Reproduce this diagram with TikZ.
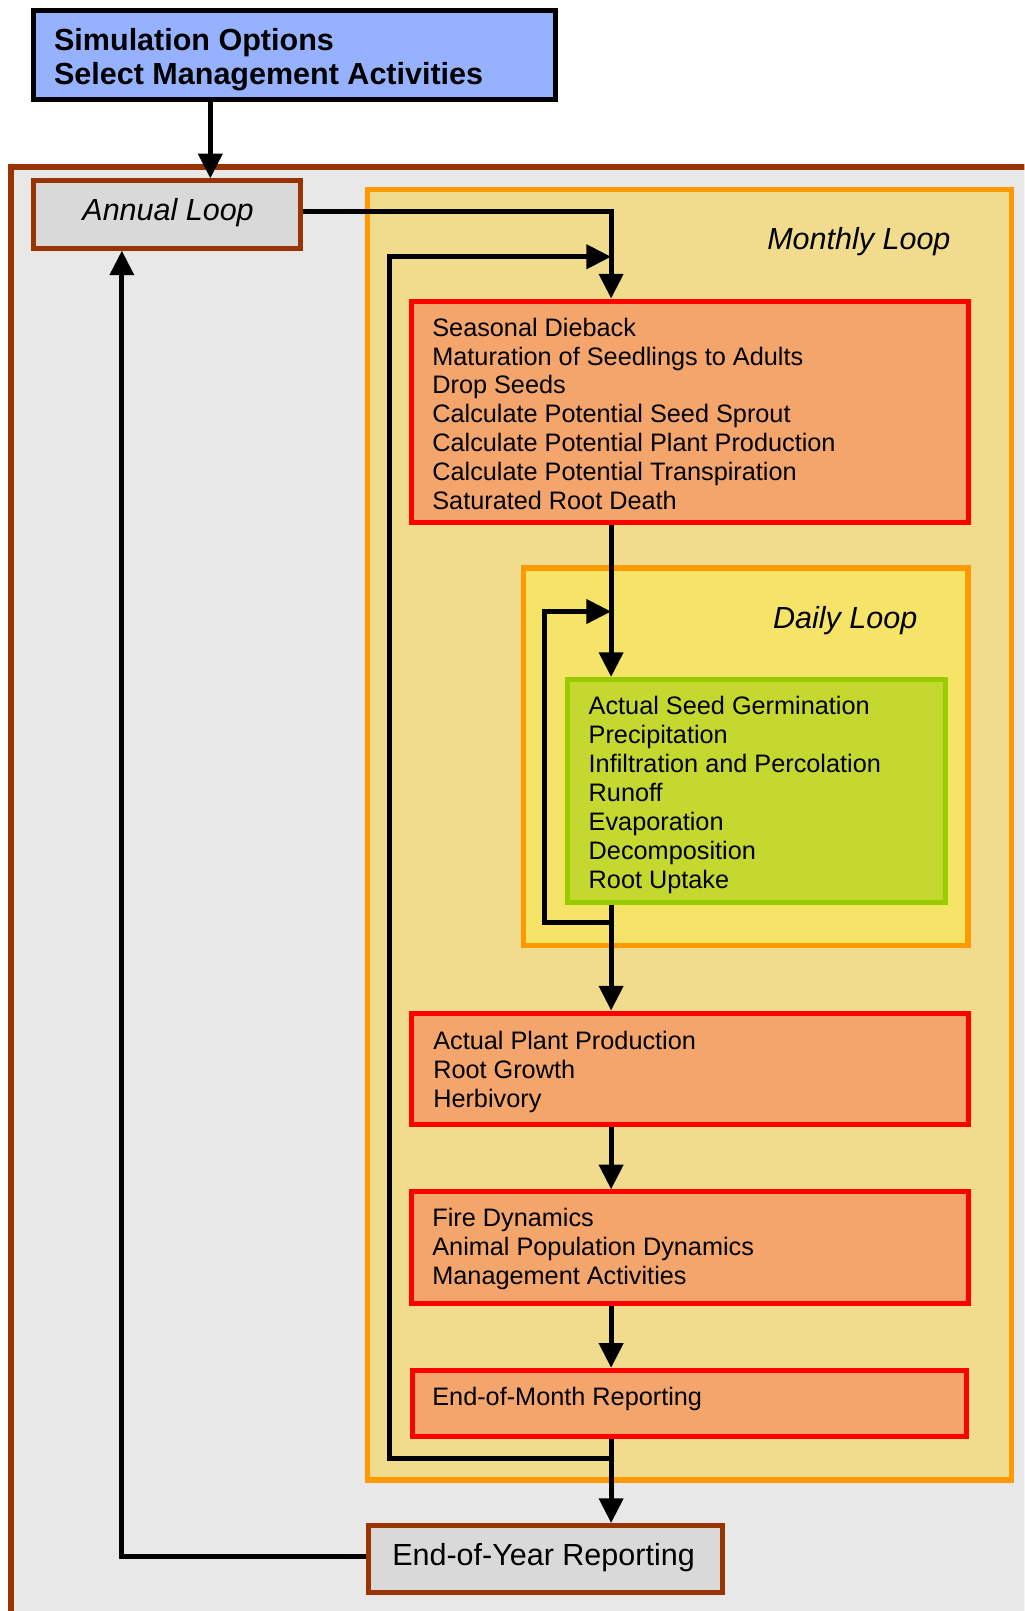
\documentclass[tikz,border=0pt]{standalone}
\usepackage{fontspec}
\setmainfont{Liberation Sans}
\usetikzlibrary{arrows.meta}
\definecolor{simblue}{RGB}{150,178,255}
\definecolor{framefill}{RGB}{232,232,232}
\definecolor{brownline}{RGB}{153,51,0}
\definecolor{grayfill}{RGB}{217,217,217}
\definecolor{monthfill}{RGB}{240,220,140}
\definecolor{orangeline}{RGB}{255,153,0}
\definecolor{redfill}{RGB}{243,165,108}
\definecolor{dayfill}{RGB}{245,228,104}
\definecolor{greenfill}{RGB}{196,216,48}
\definecolor{greenline}{RGB}{153,204,0}
\begin{document}
\begin{tikzpicture}[x=1pt,y=-1pt,
  panel/.style={draw, rectangle, inner sep=0pt, anchor=north west, line width=4.8pt, xshift=-2.4pt, yshift=2.4pt},
  thickpanel/.style={panel, line width=5.2pt, xshift=-0.2pt, yshift=0.2pt},
  simpanel/.style={panel, draw=black, fill=simblue},
  framepanel/.style={thickpanel, draw=brownline, fill=framefill},
  graypanel/.style={panel, draw=brownline, fill=grayfill},
  monthpanel/.style={thickpanel, draw=orangeline, fill=monthfill},
  daypanel/.style={thickpanel, draw=orangeline, fill=dayfill},
  redpanel/.style={panel, draw=red, fill=redfill},
  greenpanel/.style={panel, draw=greenline, fill=greenfill},
  conn/.style={draw=black, line width=4.8pt},
  arr/.style={conn, -{Triangle[length=24pt,width=23pt]}},
  txt/.style={anchor=base west, inner sep=0pt, font=\fontsize{24.6}{28.3}\selectfont},
  bigtxt/.style={anchor=base west, inner sep=0pt, font=\fontsize{29.7}{34}\selectfont},
  bigit/.style={bigtxt, font=\fontsize{29.7}{34}\selectfont\itshape},
  boldtxt/.style={anchor=base west, inner sep=0pt, font=\fontsize{29.7}{34}\selectfont\bfseries},
]
\useasboundingbox (0,0) rectangle (997,1568);
\clip (0,0) rectangle (997,1568);
\fill[white] (0,0) rectangle (997,1568);

% panels
\node[framepanel, minimum width=1100pt, minimum height=1500pt] (frame) at (10.6,162.6) {};
\node[simpanel, minimum width=508.3pt, minimum height=86.1pt] (sim) at (32.7,10.5) {};
\node[graypanel, minimum width=259.8pt, minimum height=65.5pt] (annual) at (32.7,176) {};
\node[monthpanel, minimum width=627.3pt, minimum height=1256pt] (month) at (357.5,184.5) {};
\node[redpanel, minimum width=541.9pt, minimum height=215.5pt] (red1) at (400.6,293) {};
\node[daypanel, minimum width=432.5pt, minimum height=367.2pt] (day) at (509.5,552.8) {};
\node[greenpanel, minimum width=368.4pt, minimum height=216.7pt] (green) at (551.9,661.3) {};
\node[redpanel, minimum width=541.9pt, minimum height=108.5pt] (red2) at (400.6,986) {};
\node[redpanel, minimum width=541.9pt, minimum height=108.5pt] (red3) at (400.6,1160) {};
\node[redpanel, minimum width=539pt, minimum height=64.8pt] (red4) at (401.5,1333.7) {};
\node[graypanel, minimum width=344.3pt, minimum height=64.9pt] (eoy) at (358.7,1484.8) {};

% texts
\node[boldtxt] (simt1) at (52.5,48.7) {Simulation Options};
\node[boldtxt] (simt2) at (52.5,82) {Select Management Activities};
\node[bigit] (annualt) at (80,215) {Annual Loop};
\node[bigit] (montht) at (746.6,242.5) {Monthly Loop};
\node[bigit] (dayt) at (752.3,611.8) {Daily Loop};
\node[bigtxt] (eoyt) at (381.6,1523.7) {End-of-Year Reporting};
\foreach \t [count=\i from 0] in {Seasonal Dieback,Maturation of Seedlings to Adults,Drop Seeds,Calculate Potential Seed Sprout,Calculate Potential Plant Production,Calculate Potential Transpiration,Saturated Root Death}
  \node[txt] (r1t\i) at (420.6,{327.2+28.1*\i}) {\t};
\foreach \t [count=\i from 0] in {Actual Seed Germination,Precipitation,Infiltration and Percolation,Runoff,Evaporation,Decomposition,Root Uptake}
  \node[txt] (gt\i) at (572.8,{695.2+28.3*\i}) {\t};
\foreach \t [count=\i from 0] in {Actual Plant Production,Root Growth,Herbivory}
  \node[txt] (r2t\i) at (421.5,{1021+28.4*\i}) {\t};
\foreach \t [count=\i from 0] in {Fire Dynamics,Animal Population Dynamics,Management Activities}
  \node[txt] (r3t\i) at (420.6,{1194+28*\i}) {\t};
\node[txt] (r4t0) at (420.6,1367.5) {End-of-Month Reporting};

% helper coordinates
\coordinate (simdrop) at (204.7,0);
\coordinate (spine) at (594.8,0);
\coordinate (ret) at (118.6,0);
\coordinate (mbot) at (594.8,1419.6);
\coordinate (mleftb) at (379,1419.6);
\coordinate (mleftt) at (379,249.9);
\coordinate (mtop) at (594.8,249.9);
\coordinate (dbot) at (594.8,897.7);
\coordinate (dleftb) at (530.3,897.7);
\coordinate (dleftt) at (530.3,595.2);
\coordinate (dtop) at (594.8,595.2);

% connectors
\draw[arr] (simdrop |- sim.south) -- (simdrop |- annual.north);
\draw[arr] ([yshift=3pt]annual.east) -| (spine |- red1.north);
\draw[arr] (mbot) -- (mleftb) -- (mleftt) -- (mtop);
\draw[arr] (spine |- red1.south) -- (spine |- green.north);
\draw[conn] (spine |- green.south) -- (dbot) -- (dleftb) -- (dleftt) -- ([xshift=-20pt]dtop);
\draw[arr] (dleftt) -- (dtop);
\draw[arr] (spine |- green.south) -- (spine |- red2.north);
\draw[arr] (spine |- red2.south) -- (spine |- red3.north);
\draw[arr] (spine |- red3.south) -- (spine |- red4.north);
\draw[arr] (spine |- red4.south) -- (spine |- eoy.north);
\draw[arr] ([yshift=2pt]eoy.west) -| (ret |- annual.south);
\end{tikzpicture}
\end{document}
